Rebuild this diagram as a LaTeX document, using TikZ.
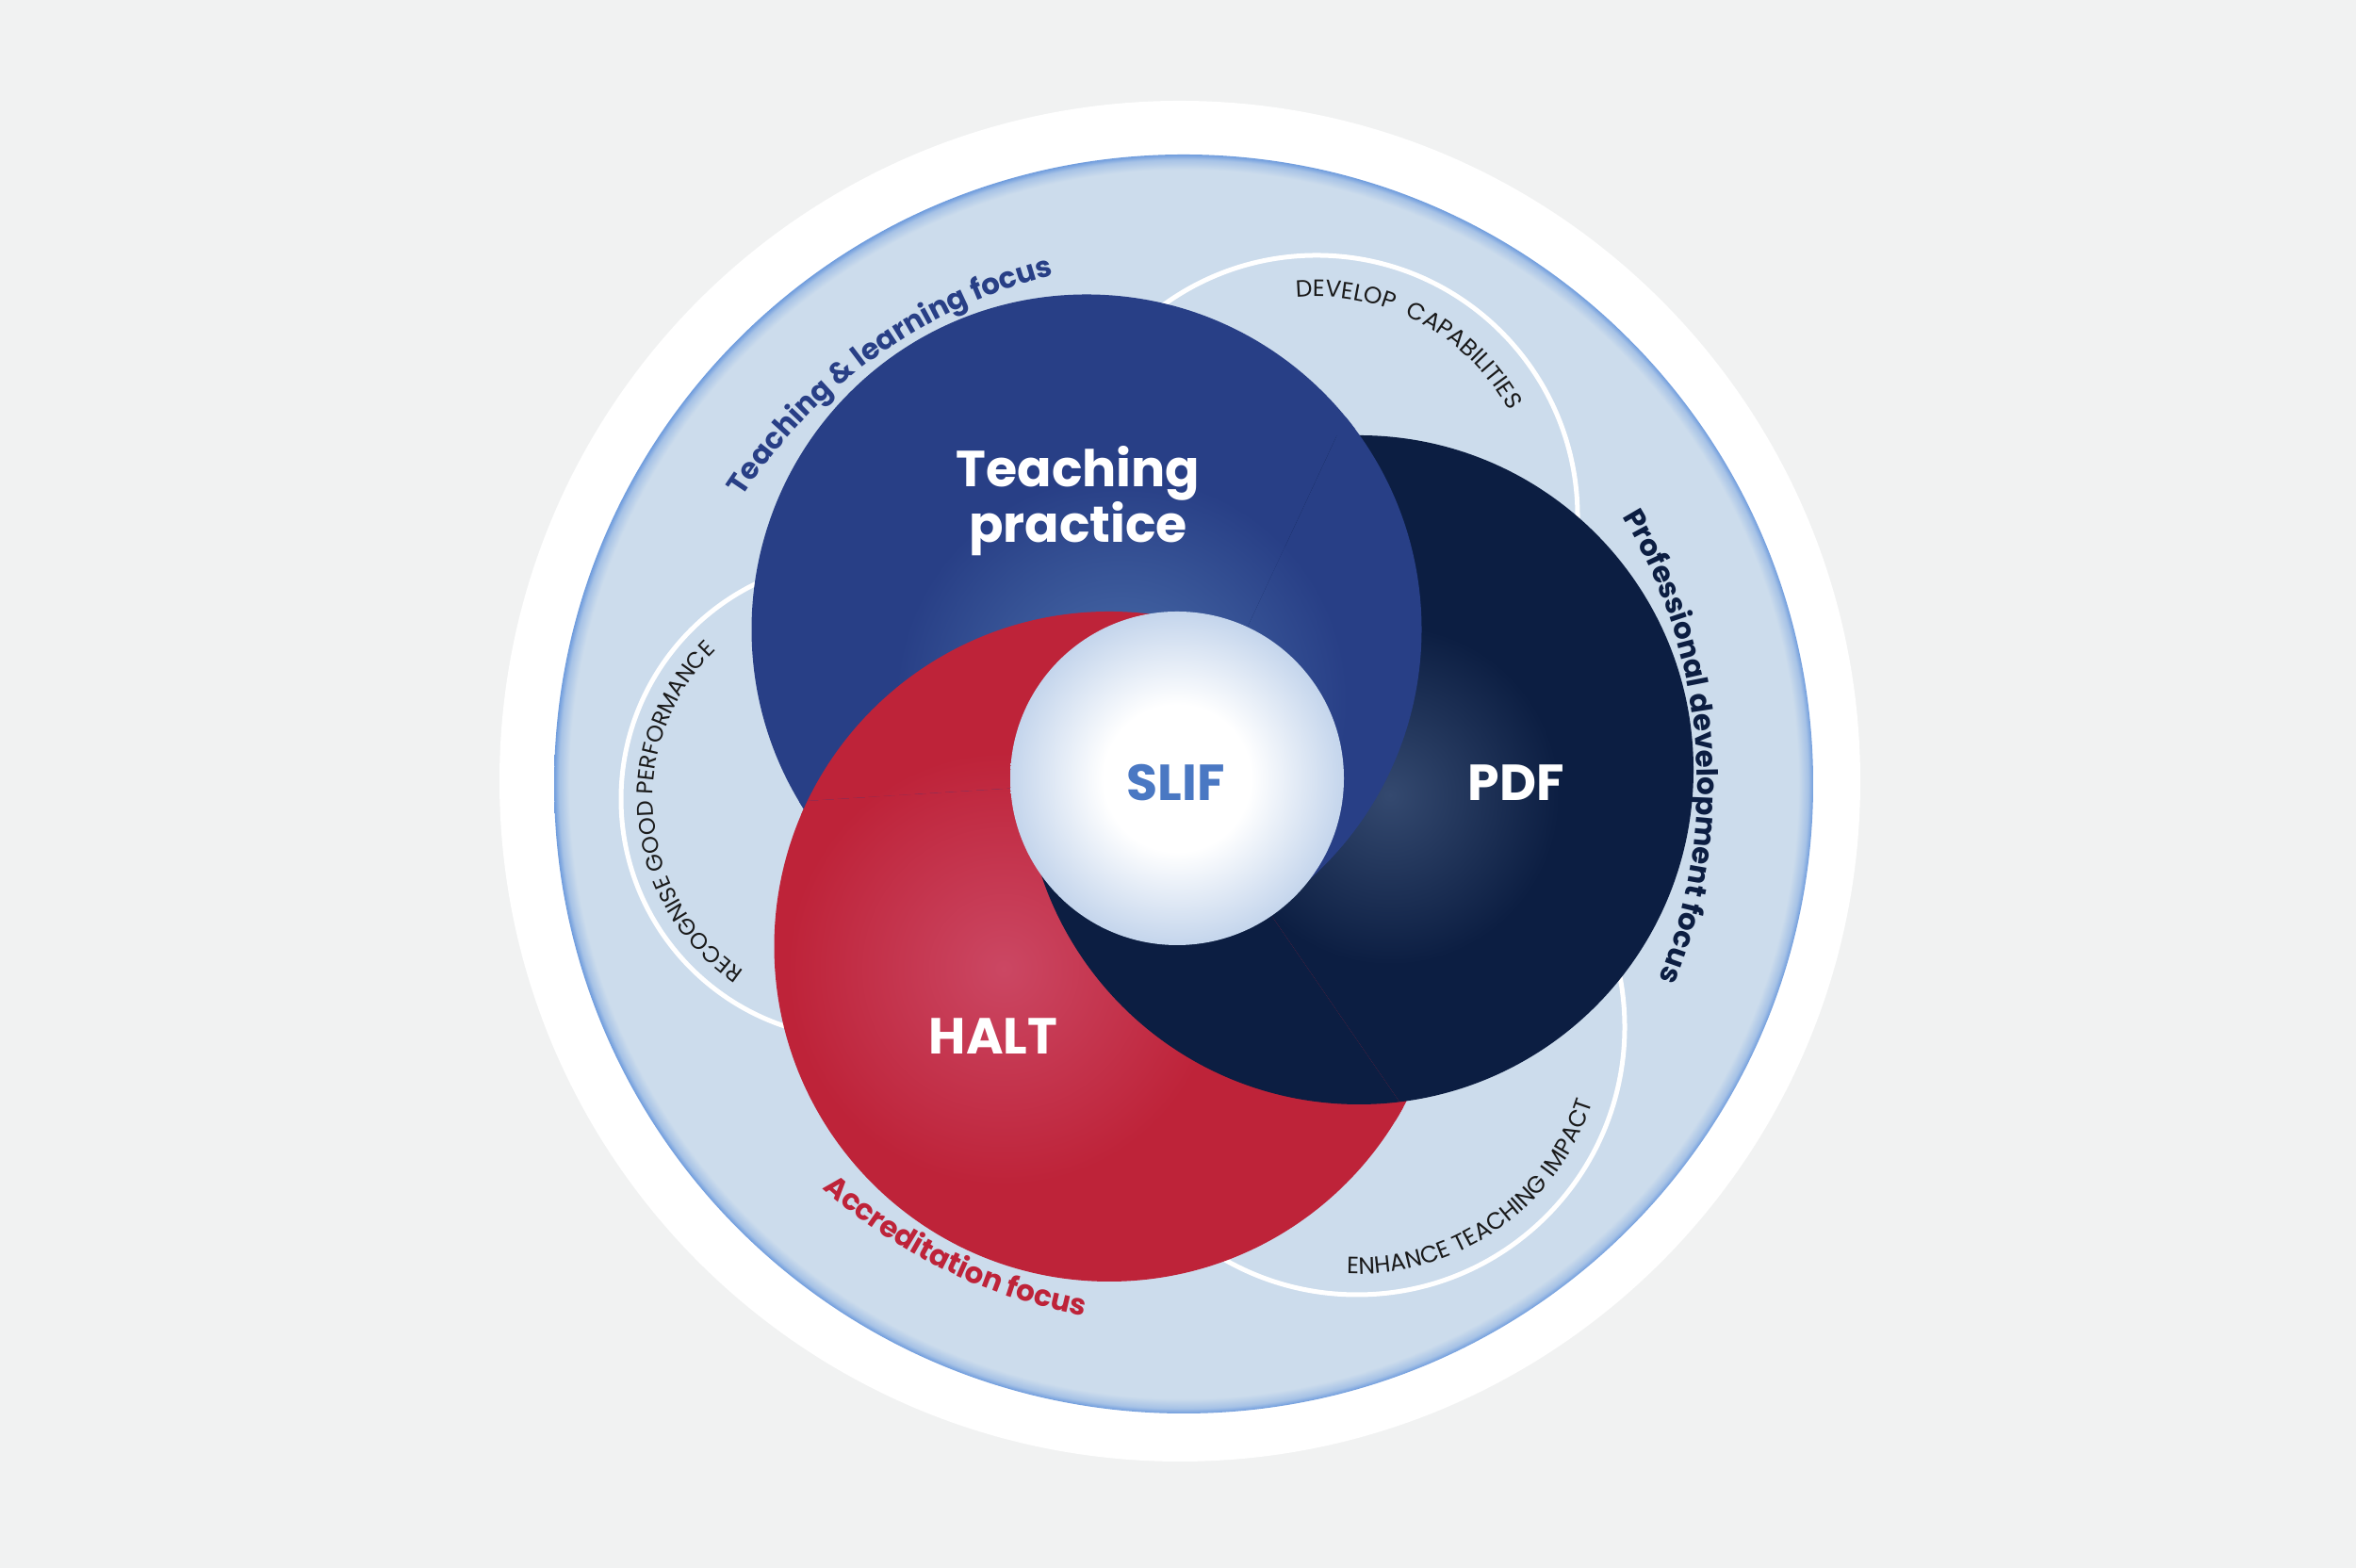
\documentclass[tikz,border=0pt]{standalone}
\usepackage{fontspec}
\setmainfont{Poppins}
\usetikzlibrary{decorations.text}
\definecolor{bgcol}{HTML}{F1F2F2}
\definecolor{ringfill}{HTML}{CCDCEC}
\definecolor{ringmid}{HTML}{A6C2E6}
\definecolor{ringrim}{HTML}{6F9CDD}
\definecolor{tpblue}{HTML}{283F86}
\definecolor{tpglow}{HTML}{4C70AC}
\definecolor{navy}{HTML}{0C1E42}
\definecolor{navyglow}{HTML}{34496F}
\definecolor{halred}{HTML}{BE2339}
\definecolor{redglow}{HTML}{CB4763}
\definecolor{slifedge}{HTML}{C4D5EC}
\definecolor{sliftext}{HTML}{4A78C3}
\definecolor{lbltext}{HTML}{1A1A1A}
\pgfdeclareradialshading{ringshade}{\pgfpointorigin}{color(0bp)=(ringfill); color(24.4bp)=(ringfill); color(24.8bp)=(ringmid); color(25bp)=(ringrim); color(50bp)=(ringrim)}
\pgfdeclareradialshading{slifshade}{\pgfpointorigin}{color(0bp)=(white); color(11bp)=(white); color(25bp)=(slifedge); color(50bp)=(slifedge)}
\newcommand\ringlblfont{\fontsize{8.8}{11}\selectfont\bfseries}
\newcommand\smalllblfont{\fontsize{7.1}{8}\selectfont}
\newcommand\reclblfont{\fontsize{6.85}{8}\selectfont}
\newcommand\discTP{\begin{scope}\clip (tp) circle (3.555);\fill[tpblue] (tp) circle (3.6);\shade[inner color=tpglow, outer color=tpblue] (tpg) circle (2.4);\end{scope}}
\newcommand\discPDF{\begin{scope}\clip (pd) circle (3.55);\fill[navy] (pd) circle (3.6);\shade[inner color=navyglow, outer color=navy] (pdg) circle (1.8);\end{scope}}
\newcommand\discHALT{\begin{scope}\clip (ha) circle (3.555);\fill[halred] (ha) circle (3.6);\shade[inner color=redglow, outer color=halred] (hag) circle (2.3);\end{scope}}
\tikzset{
  arcline/.style={draw=white, line width=0.05cm},
  bigtxt/.style={font=\fontsize{15.3}{17}\selectfont\bfseries, inner sep=0pt, anchor=base},
}
\begin{document}
\begin{tikzpicture}
\useasboundingbox (0,0) rectangle (25,16.64);
\fill[bgcol] (0,0) rectangle (25,16.64);
\coordinate (wc) at (12.52,8.35);
\coordinate (rc) at (12.56,8.32);
\coordinate (lc) at (12.54,8.32);
\coordinate (recc) at (9.13,8.16);
\coordinate (devc) at (13.97,11.16);
\coordinate (enhc) at (14.40,5.74);
\coordinate (tp) at (11.53,9.96);
\coordinate (pd) at (14.42,8.47);
\coordinate (ha) at (11.77,6.595);
\coordinate (sc) at (12.49,8.38);
\coordinate (tpg) at (11.90,9.20);
\coordinate (pdg) at (14.75,8.20);
\coordinate (hag) at (10.65,6.36);
% outer discs
\fill[white] (wc) circle (7.22);
\shade[shading=ringshade] (rc) circle (6.68);
% thin white circles
\draw[arcline] (recc) circle (2.54);
\draw[arcline] (devc) circle (2.77);
\draw[arcline] (enhc) circle (2.84);
% interlocking discs, three wedges
\begin{scope}
  \clip[shift={(sc)}] (0,0) -- (63:20) -- (124:20) -- (185.5:20) -- cycle;
  \discPDF \discTP \discHALT
\end{scope}
\begin{scope}
  \clip[shift={(sc)}] (0,0) -- (-57.5:20) -- (3.75:20) -- (65:20) -- cycle;
  \discHALT \discPDF \discTP
\end{scope}
\begin{scope}
  \clip[shift={(sc)}] (0,0) -- (183.5:20) -- (244:20) -- (304.5:20) -- cycle;
  \discTP \discHALT \discPDF
\end{scope}
% centre disc
\shade[shading=slifshade] (sc) circle (1.77);
% main labels
\node[bigtxt, white] (tp1) at (11.44,11.474) {Teaching};
\node[bigtxt, white] (tp2) at (11.44,10.884) {practice};
\node[bigtxt, sliftext] (slif) at (12.475,8.14) {SLIF};
\node[bigtxt, white] (pdf) at (16.09,8.14) {PDF};
\node[bigtxt, white] (halt) at (10.54,5.45) {HALT};
% ring labels
\path[decorate, decoration={text along path, text align=center,
  text={|\ringlblfont\color{tpblue}|Teaching {\&} learning focus}}]
  ([shift={(152:5.57)}]lc) arc[start angle=152, end angle=99, radius=5.57];
\path[decorate, decoration={text along path, text align=center,
  text={|\ringlblfont\color{navy}|Professional development focus}}]
  ([shift={(33:5.47)}]lc) arc[start angle=33, end angle=-24, radius=5.47];
\path[decorate, decoration={text along path, text align=center,
  text={|\ringlblfont\color{halred}|Accreditation focus}}]
  ([shift={(220:5.74)}]lc) arc[start angle=220, end angle=268, radius=5.74];
% small labels
\path[decorate, decoration={text along path, text align=center,
  text={|\smalllblfont\color{lbltext}|DEVELOP {\ }CAPABILITIES}}]
  ([shift={(100:2.33)}]devc) arc[start angle=100, end angle=24, radius=2.33];
\path[decorate, decoration={text along path, text align=center,
  text={|\reclblfont\color{lbltext}|RECOGNISE GOOD PERFORMANCE}}]
  ([shift={(243:2.2)}]recc) arc[start angle=243, end angle=127, radius=2.2];
\path[decorate, decoration={text along path, text align=center,
  text={|\smalllblfont\color{lbltext}|ENHANCE TEACHING IMPACT}}]
  ([shift={(258:2.62)}]enhc) arc[start angle=258, end angle=352, radius=2.62];
\end{tikzpicture}
\end{document}
